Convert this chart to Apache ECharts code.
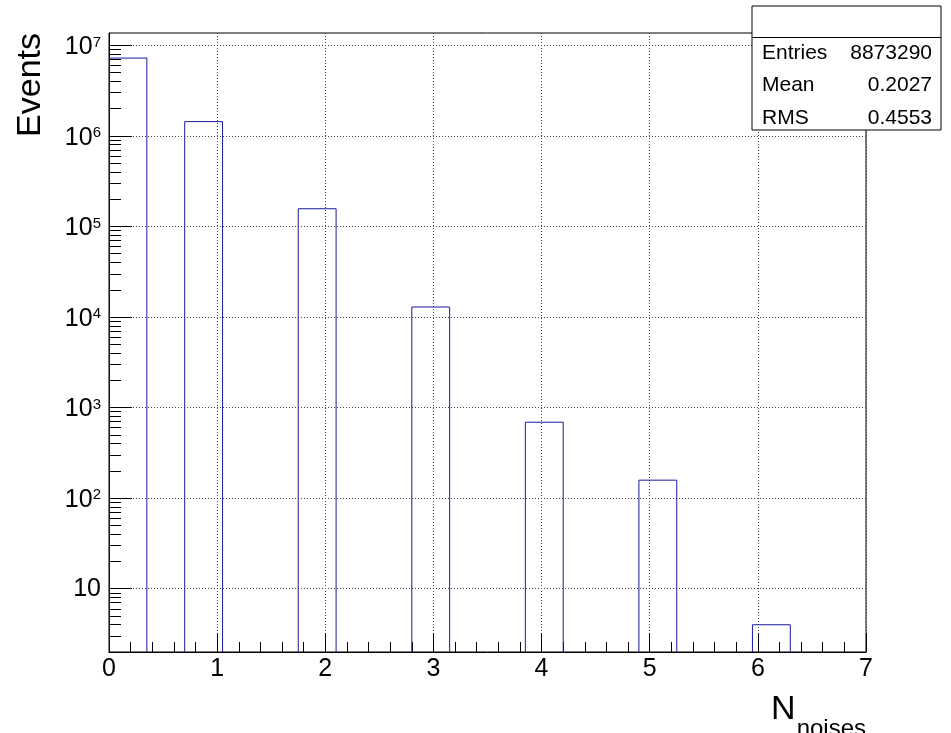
<!DOCTYPE html>
<html>
<head>
<meta charset="utf-8">
<script src="https://cdn.jsdelivr.net/npm/echarts@6/dist/echarts.min.js"></script>
<style>
  html, body { margin: 0; padding: 0; background: #fff; }
  #chart { width: 951px; height: 733px; }
</style>
</head>
<body>
<div id="chart"></div>
<script>
// Number of noise hits per event: 20 bins over [0, 7], log-scale counts
const binWidth = 0.35;
const binLowEdges = [0, 0.70, 1.75, 2.80, 3.85, 4.90, 5.95];
const binCounts = [7240000, 1440000, 157000, 12900, 690, 158, 4];

const xTickLabels = ['0', '1', '2', '3', '4', '5', '6', '7'];
const yDecades = [10, 1e2, 1e3, 1e4, 1e5, 1e6, 1e7];

const statsLabels = ['Entries', 'Mean', 'RMS'];
const statsValues = ['8873290', '0.2027', '0.4553'];

const xMin = 0, xMax = 7;
const yMin = 2, yMax = 1.37e7;

const FONT = "'Liberation Sans', Arial, Helvetica, sans-serif";

// minor ticks 2..9 within every decade of the y range
const yMinorTicks = [];
for (let d = 1; d <= 1e7; d *= 10) {
  for (let m = 2; m <= 9; m++) {
    const v = m * d;
    if (v > yMin && v < yMax) yMinorTicks.push(v);
  }
}

function textWidth(str, font) {
  const c = document.createElement('canvas').getContext('2d');
  c.font = font;
  return c.measureText(str).width;
}

const chart = echarts.init(document.getElementById('chart'), null, { renderer: 'canvas' });

const subFont = 24, mainFont = 34;
const subW = textWidth('noises', subFont + 'px ' + FONT);
const xTitleRight = 866;

const option = {
  backgroundColor: '#fff',
  animation: false,
  grid: {
    left: 109, right: 85, top: 33, bottom: 81,
    show: true, borderColor: '#000', borderWidth: 1, backgroundColor: 'transparent'
  },
  xAxis: {
    type: 'value', min: xMin, max: xMax, interval: 1,
    axisLine: { show: true, onZero: false, lineStyle: { color: '#000', width: 1 } },
    axisTick: { show: true, inside: true, length: 19, lineStyle: { color: '#000' } },
    minorTick: { show: true, splitNumber: 5, length: 10, lineStyle: { color: '#000' } },
    axisLabel: {
      fontSize: 25, color: '#000', margin: 5, fontFamily: FONT,
      formatter: v => xTickLabels[Math.round(v)]
    },
    splitLine: { show: true, lineStyle: { type: [1, 2], color: '#444', width: 1 } }
  },
  yAxis: [
    {
      type: 'log', logBase: 10, min: yMin, max: yMax, position: 'left',
      axisLine: { show: true, lineStyle: { color: '#000', width: 1 } },
      axisTick: { show: true, inside: true, length: 23, customValues: yDecades, lineStyle: { color: '#000' } },
      axisLabel: {
        customValues: yDecades, margin: 8, color: '#000', fontFamily: FONT,
        formatter: v => {
          const e = Math.round(Math.log10(v));
          return e === 1 ? '{p|10}' : '{b|10}{s|' + e + '}';
        },
        rich: {
          p: { fontSize: 25, fontFamily: FONT, color: '#000' },
          b: { fontSize: 25, fontFamily: FONT, color: '#000', padding: [4, 0, 0, 0] },
          s: { fontSize: 15, fontFamily: FONT, color: '#000', verticalAlign: 'top', padding: [4, 0, 0, 0] }
        }
      },
      splitLine: { show: true, lineStyle: { type: [1, 2], color: '#444', width: 1 } }
    },
    {
      type: 'log', logBase: 10, min: yMin, max: yMax, position: 'left', offset: 0,
      axisLine: { show: false },
      axisTick: { show: true, inside: true, length: 12, customValues: yMinorTicks, lineStyle: { color: '#000' } },
      axisLabel: { show: false },
      splitLine: { show: false }
    }
  ],
  series: [{
    type: 'custom',
    xAxisIndex: 0, yAxisIndex: 0,
    clip: true,
    data: binLowEdges.map((x, i) => [x, binCounts[i]]),
    encode: { x: 0, y: 1 },
    renderItem: (params, api) => {
      const x0 = api.value(0);
      const v = api.value(1);
      const x1 = x0 + binWidth;
      const pts = [
        api.coord([x0, yMin]),
        api.coord([x0, v]),
        api.coord([x1, v]),
        api.coord([x1, yMin])
      ];
      return {
        type: 'polyline',
        shape: { points: pts },
        style: { stroke: '#1a1aa0', fill: null, lineWidth: 1 }
      };
    }
  }],
  graphic: [
    // y axis title
    {
      type: 'text', x: 31, y: 33, rotation: Math.PI / 2,
      style: { text: 'Events', font: mainFont + 'px ' + FONT, fill: '#000', align: 'right', verticalAlign: 'middle' }
    },
    // x axis title N_noises
    {
      type: 'text', x: xTitleRight - subW - 1, y: 693,
      style: { text: 'N', font: mainFont + 'px ' + FONT, fill: '#000', align: 'right', verticalAlign: 'top' }
    },
    {
      type: 'text', x: xTitleRight, y: 717,
      style: { text: 'noises', font: subFont + 'px ' + FONT, fill: '#000', align: 'right', verticalAlign: 'top' }
    },
    // statistics box
    {
      type: 'rect', shape: { x: 752, y: 6, width: 189, height: 124 },
      style: { fill: '#fff', stroke: '#000', lineWidth: 1 }, z: 100
    },
    {
      type: 'line', shape: { x1: 752, y1: 37.5, x2: 941, y2: 37.5 },
      style: { stroke: '#000', lineWidth: 1 }, z: 101
    },
    ...statsLabels.map((t, i) => ({
      type: 'text', x: 762, y: 53 + i * 32.5, z: 102,
      style: { text: t, font: '21px ' + FONT, fill: '#000', align: 'left', verticalAlign: 'middle' }
    })),
    ...statsValues.map((t, i) => ({
      type: 'text', x: 932, y: 53 + i * 32.5, z: 102,
      style: { text: t, font: '21px ' + FONT, fill: '#000', align: 'right', verticalAlign: 'middle' }
    }))
  ]
};

chart.setOption(option);
</script>
</body>
</html>
